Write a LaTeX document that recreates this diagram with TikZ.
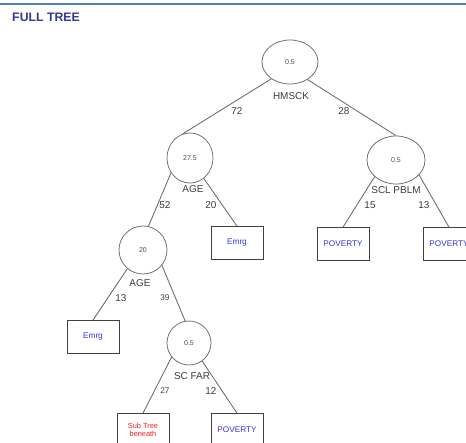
\documentclass[tikz,border=0pt]{standalone}
\usepackage{fontspec}
\setmainfont{Liberation Sans}
\usetikzlibrary{shapes.geometric}
\definecolor{ruleblue}{RGB}{79,129,189}
\definecolor{titleblue}{RGB}{55,55,150}
\definecolor{leafblue}{RGB}{50,50,245}
\definecolor{subred}{RGB}{240,30,30}
\definecolor{edgegray}{RGB}{110,110,110}
\definecolor{txtgray}{RGB}{60,60,60}

\begin{document}
\begin{tikzpicture}[x=0.03cm,y=-0.03cm,
	split/.style={draw=edgegray, ellipse, line width=0.65pt, inner sep=0pt, font=\fontsize{6}{7}\selectfont, text=black!70},
	leaf/.style={draw=black!75, rectangle, line width=0.6pt, minimum width=1.56cm, minimum height=0.99cm, inner sep=0pt, font=\fontsize{7}{8}\selectfont, text=leafblue},
	attr/.style={font=\fontsize{8.5}{10}\selectfont, text=txtgray, inner sep=0pt},
	cnt/.style={font=\fontsize{8.5}{10}\selectfont, text=txtgray, inner sep=0pt},
	branch/.style={draw=edgegray, line width=0.75pt}]
	\useasboundingbox (0,0) rectangle (466,443);
	\fill[white] (0,0) rectangle (466,443);
	\draw[ruleblue, line width=1.7pt] (0,4) -- (466,4);
	\node (title) [anchor=west, font=\fontsize{10.5}{12}\bfseries, text=titleblue, inner sep=0pt] at (12,17) {FULL TREE};

	% split nodes
	\node (hmsck) [split, minimum width=1.68cm, minimum height=1.32cm] at (290,62) {0.5};
	\node (age1) [split, minimum width=1.38cm, minimum height=1.5cm] at (190,158) {27.5};
	\node (scl) [split, minimum width=1.74cm, minimum height=1.44cm] at (396,160) {0.5};
	\node (age2) [split, minimum width=1.44cm, minimum height=1.44cm] at (143,250) {20};
	\node (scfar) [split, minimum width=1.32cm, minimum height=1.32cm] at (189,343) {0.5};

	% leaves
	\node (emrg1) [leaf] at (237,243) {Emrg};
	\node (pov1) [leaf] at (343,244) {POVERTY};
	\node (pov2) [leaf] at (449,244) {POVERTY};
	\node (emrg2) [leaf] at (93,337) {Emrg};
	\node (sub) [leaf, text=subred, font=\fontsize{6.3}{7}\selectfont, align=center] at (143,430) {Sub Tree\\beneath};
	\node (pov3) [leaf] at (237,430) {POVERTY};

	% split labels and counts
	\node (lhmsck) [attr] at (291,96) {HMSCK};
	\node (c72) [cnt] at (237,111) {72};
	\node (c28) [cnt] at (344,111) {28};
	\node (lage1) [attr] at (193,189) {AGE};
	\node (c52) [cnt] at (165,205) {52};
	\node (c20) [cnt] at (211,205) {20};
	\node (lscl) [attr] at (396,190) {SCL PBLM};
	\node (c15) [cnt] at (370,205) {15};
	\node (c13a) [cnt] at (424,205) {13};
	\node (lage2) [attr] at (140,283) {AGE};
	\node (c13b) [cnt] at (121,298) {13};
	\node (c39) [cnt, font=\fontsize{7}{8}\selectfont] at (165,298) {39};
	\node (lscfar) [attr] at (192,376) {SC FAR};
	\node (c27) [cnt, font=\fontsize{7}{8}\selectfont] at (165,391) {27};
	\node (c12) [cnt] at (211,391) {12};

	\draw[branch] (hmsck.-138) -- (age1.107);
	\draw[branch] (hmsck.-45) -- (scl.north);
	\draw[branch] (age1.-142) -- (age2.77);
	\draw[branch] (age1.-56) -- (emrg1.north);
	\draw[branch] (scl.-142) -- (pov1.north);
	\draw[branch] (scl.-33) -- (pov2.north);
	\draw[branch] (age2.-130) -- (emrg2.north);
	\draw[branch] (age2.-39) -- (scfar.100);
	\draw[branch] (scfar.-141) -- (sub.north);
	\draw[branch] (scfar.-54) -- (pov3.north);
\end{tikzpicture}
\end{document}
